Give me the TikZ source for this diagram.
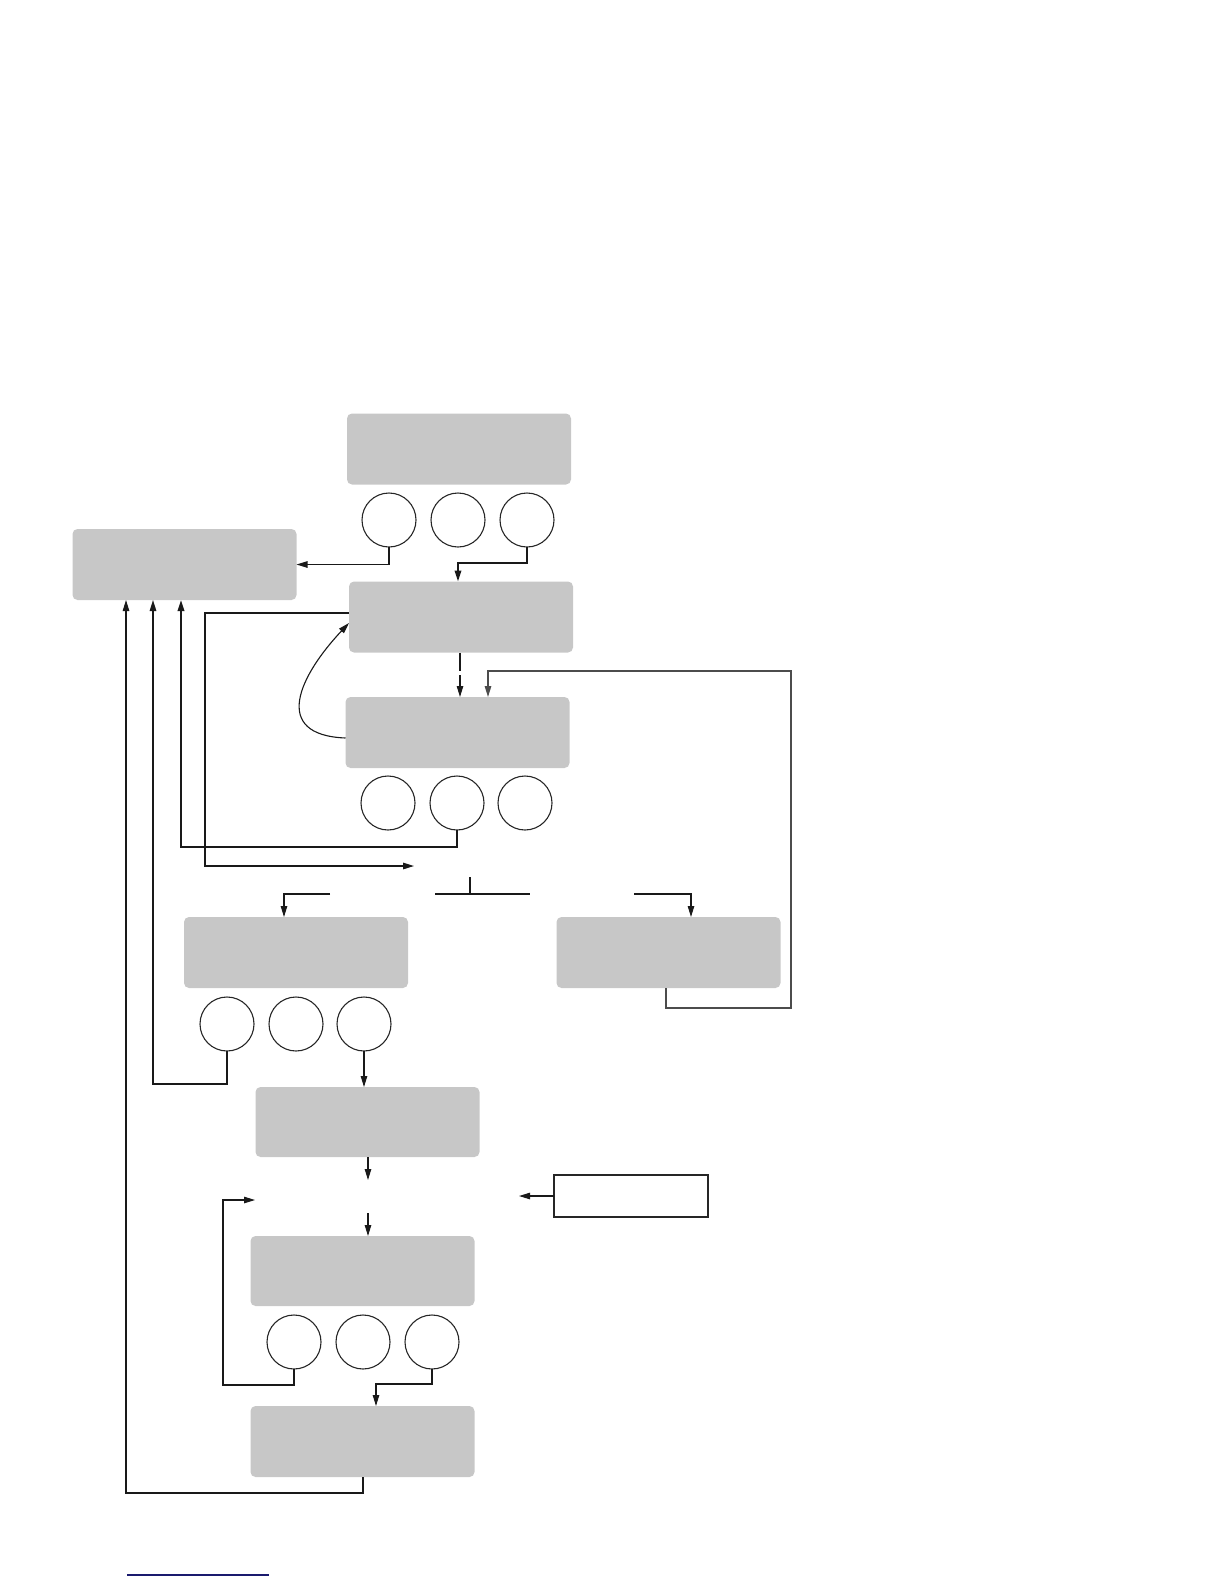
\documentclass[tikz,border=0pt]{standalone}
\usetikzlibrary{arrows.meta,calc}
\definecolor{boxgray}{HTML}{C7C7C7}
\definecolor{linkblue}{HTML}{1A1A6E}
\tikzset{
  gbox/.style={fill=boxgray, rounded corners=5pt, minimum width=224pt, minimum height=71pt, inner sep=0pt, outer sep=0pt},
  wbox/.style={draw=black!85, line width=1.2pt, fill=white, minimum width=154pt, minimum height=42pt, inner sep=0pt, outer sep=0pt},
  circ/.style={circle, draw=black!85, line width=1.1pt, minimum size=54pt, inner sep=0pt, outer sep=0pt},
  conn/.style={draw=black!90, line width=1.1pt},
  heavy/.style={draw=black!90, line width=2pt},
  arr/.style={-{Triangle[length=11pt,width=6.5pt]}},
}
\begin{document}
\begin{tikzpicture}[x=1pt,y=-1pt]
\useasboundingbox (0,0) rectangle (1224,1584);
% boxes
\node[gbox] (A) at (459,449) {};
\node[gbox] (L) at (184.5,564.5) {};
\node[gbox] (B) at (461,617) {};
\node[gbox] (C) at (457.5,732.5) {};
\node[gbox] (D) at (296,952.5) {};
\node[gbox] (E) at (668.5,952.5) {};
\node[gbox,minimum height=70pt] (F) at (367.5,1122) {};
\node[gbox,minimum height=70pt] (G) at (362.5,1271) {};
\node[gbox] (H) at (362.5,1441.5) {};
\node[wbox] (W) at (631,1196) {};
% circles
\node[circ] (a1) at (389,520) {};
\node[circ] (a2) at (458,520) {};
\node[circ] (a3) at (527,520) {};
\node[circ] (c1) at (388,803) {};
\node[circ] (c2) at (457,803) {};
\node[circ] (c3) at (525,803) {};
\node[circ] (d1) at (227,1024) {};
\node[circ] (d2) at (296,1024) {};
\node[circ] (d3) at (364,1024) {};
\node[circ] (g1) at (294,1342) {};
\node[circ] (g2) at (363,1342) {};
\node[circ] (g3) at (432,1342) {};
% helper coordinates
\coordinate (ab) at (458,563);
\coordinate (k1) at (460,671);
\coordinate (k2) at (460,675);
\coordinate (e1) at (666,1008);
\coordinate (e2) at (791,671);
\coordinate (e3) at (488,671);
\coordinate (cc) at (181,847);
\coordinate (p1) at (205,866);
\coordinate (p2) at (414,866);
\coordinate (t1) at (470,877);
\coordinate (t2) at (470,894);
\coordinate (t3) at (435,894);
\coordinate (t4) at (530,894);
\coordinate (dl) at (330,894);
\coordinate (dl2) at (284,894);
\coordinate (dr) at (634,894);
\coordinate (dr2) at (691,894);
\coordinate (dd) at (153,1084);
\coordinate (f1) at (368,1180);
\coordinate (g0) at (368,1213);
\coordinate (w1) at (519,1196);
\coordinate (ga) at (223,1385);
\coordinate (gb) at (255,1200);
\coordinate (gc) at (376,1384);
\coordinate (h1) at (363,1493);
\coordinate (h2) at (126,1493);
% connectors
\draw[conn,arr] (a1.south) |- (L.east);
\draw[heavy,arr] (a3.south) |- (ab) -- (ab |- B.north);
\draw[conn] (k1 |- B.south) -- (k1);
\draw[conn,arr] (k2) -- (k2 |- C.north);
\draw[conn,draw=black!70,line width=1.4pt,arr] (e1 |- E.south) -- (e1) -| (e2) -- (e3) -- (e3 |- C.north);
\draw[conn,arr] ([yshift=-5.5pt]C.west) .. controls (270,735) and (300,675) .. ([yshift=-6pt]B.west);
\draw[heavy,arr] (c2.south) |- (cc) -- (cc |- L.south);
\draw[conn,line width=1.4pt,arr] ([yshift=4pt]B.west) -| (p1) -- (p2);
\draw[conn,line width=1.4pt] (t1) -- (t2);
\draw[conn] (t3) -- (t4);
\draw[conn,arr] (dl) -| (D.north -| dl2);
\draw[conn,arr] (dr) -| (E.north -| dr2);
\draw[conn,line width=1.4pt,arr] (d1.south) |- (dd) -- (dd |- L.south);
\draw[conn,arr] (d3.south) -- (d3.south |- F.north);
\draw[conn,arr] (F.south -| f1) -- (f1);
\draw[conn,arr] (g0) -- (g0 |- G.north);
\draw[conn,arr] (W.west) -- (w1);
\draw[conn,arr] (g1.south) |- (ga) |- (gb);
\draw[conn,arr] (g3.south) |- (gc) -- (gc |- H.north);
\draw[conn,arr] (H.south -| h1) |- (h2) -- (h2 |- L.south);
% footnote rule
\draw[linkblue,line width=1.2pt] (127,1575) -- (269,1575);
\end{tikzpicture}
\end{document}
